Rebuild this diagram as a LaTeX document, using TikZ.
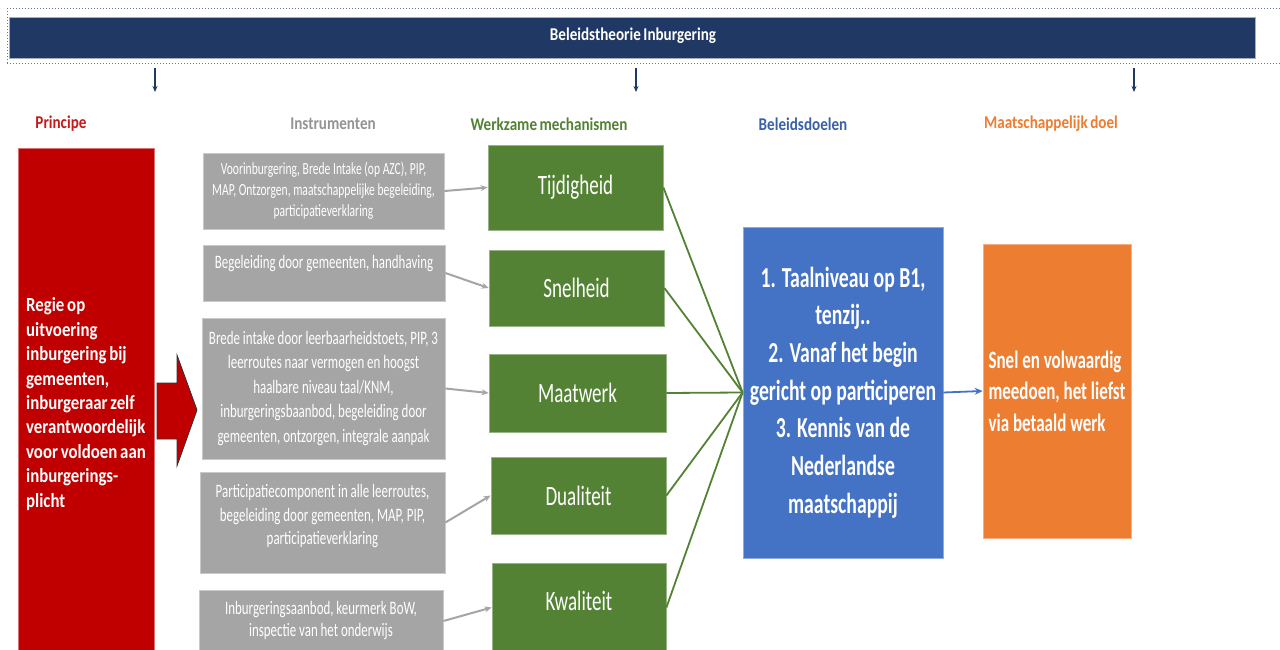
\documentclass[tikz,border=0pt]{standalone}
\usepackage{fontspec}
\usetikzlibrary{arrows.meta}
\newfontfamily\boxfont[FakeStretch=0.68]{Carlito}
\newfontfamily\headfont[FakeStretch=0.84]{Carlito}
\newfontfamily\regiefont[FakeStretch=0.84,WordSpace=0.75]{Carlito}
\definecolor{navy}{RGB}{32,56,100}
\definecolor{regieRed}{RGB}{192,0,0}
\definecolor{instrGray}{RGB}{165,165,165}
\definecolor{mechGreen}{RGB}{84,130,53}
\definecolor{doelBlue}{RGB}{68,114,196}
\definecolor{maatOrange}{RGB}{237,125,49}

\begin{document}
\begin{tikzpicture}[x=1pt,y=1pt,yscale=-1,
  header/.style={font=\headfont\bfseries\fontsize{18}{22}\selectfont},
  instrbox/.style={draw=instrGray!60!white,fill=instrGray,line width=0.8pt,text=white,align=center,inner sep=0pt,font=\boxfont\fontsize{19}{24.5}\selectfont},
  mechbox/.style={draw=mechGreen!60!white,fill=mechGreen,line width=0.8pt,text=white,inner sep=0pt,font=\boxfont\fontsize{28}{34}\selectfont},
  instrarrow/.style={draw=instrGray,line width=2pt,-{Stealth[length=7pt,width=6pt]}},
  mechline/.style={draw=mechGreen,line width=1.8pt},
  downarrow/.style={draw=navy,line width=1.2pt,-{Stealth[length=6pt,width=5pt]}}]
\clip (0,0) rectangle (1280,650);
\fill[white] (0,0) rectangle (1280,650);

%Shape: Banner
\node[draw=navy!70!white,dotted,line width=1pt,minimum width=1278pt,minimum height=55pt,inner sep=0pt] (frame) at (646,36.5) {};
\node[draw=navy!40!white,fill=navy,line width=0.8pt,minimum width=1246pt,minimum height=41pt,inner sep=0pt] (banner) at (632,37.5) {};
\node[text=white,font=\headfont\bfseries\fontsize{18}{22}\selectfont] (title) at (633,36) {Beleidstheorie Inburgering};

%Straight Lines: down arrows
\coordinate (d1a) at (155,68);  \coordinate (d1b) at (155,92);
\coordinate (d2a) at (636,68);  \coordinate (d2b) at (636,92);
\coordinate (d3a) at (1134,68); \coordinate (d3b) at (1134,92);
\draw[downarrow] (d1a) -- (d1b);
\draw[downarrow] (d2a) -- (d2b);
\draw[downarrow] (d3a) -- (d3b);

% Text Node: column headers
\node[header,text=regieRed!90!white] (hPrincipe) at (61,124) {Principe};
\node[header,text=instrGray!90!black] (hInstr) at (333,124) {Instrumenten};
\node[header,text=mechGreen] (hMech) at (549,124) {Werkzame mechanismen};
\node[header,text=doelBlue!85!black] (hDoel) at (803,124) {Beleidsdoelen};
\node[header,text=maatOrange] (hMaat) at (1051,124) {Maatschappelijk doel};

%Shape: Principe
\node[draw=regieRed!55!white,fill=regieRed,line width=0.8pt,minimum width=136pt,minimum height=512pt,inner sep=0pt,align=left,text=white,font=\regiefont\bfseries\fontsize{20}{24.4}\selectfont] (regie) at (86,404)
  {Regie op\\uitvoering\\inburgering bij\\gemeenten,\\inburgeraar zelf\\verantwoordelijk\\voor voldoen aan\\inburgerings-\\plicht};
\draw[fill=regieRed,draw=black!80,line width=0.8pt] (157,383) -- (177,383) -- (177,355) -- (197,410) -- (177,466) -- (177,439) -- (157,439) -- cycle;

%Shape: Instrumenten
\node[instrbox,minimum width=241pt,minimum height=76pt,font=\boxfont\fontsize{17}{21}\selectfont] (ins1) at (323.5,191)
  {Voorinburgering, Brede Intake (op AZC), PIP,\\MAP, Ontzorgen, maatschappelijke begeleiding,\\participatieverklaring};
\node[instrbox,minimum width=242pt,minimum height=56pt,font=\boxfont\fontsize{19}{23}\selectfont] (ins2) at (324,273)
  {Begeleiding door gemeenten, handhaving\\\mbox{}};
\node[instrbox,minimum width=243pt,minimum height=141pt] (ins3) at (323.5,388.5)
  {Brede intake door leerbaarheidstoets, PIP, 3\\leerroutes naar vermogen en hoogst\\haalbare niveau taal/KNM,\\inburgeringsbaanbod, begeleiding door\\gemeenten, ontzorgen, integrale aanpak};
\node[instrbox,minimum width=245pt,minimum height=101pt,font=\boxfont\fontsize{19}{23.5}\selectfont] (ins4) at (322.5,522.5)
  {Participatiecomponent in alle leerroutes,\\begeleiding door gemeenten, MAP, PIP,\\participatieverklaring\\[-8pt]\mbox{}};
\node[instrbox,minimum width=244pt,minimum height=62pt,font=\boxfont\fontsize{19}{22}\selectfont] (ins5) at (321,621)
  {Inburgeringsaanbod, keurmerk BoW,\\inspectie van het onderwijs};

%Shape: Werkzame mechanismen
\node[mechbox,minimum width=175pt,minimum height=85pt] (mech1) at (575.5,187.5) {Tijdigheid};
\node[mechbox,minimum width=175pt,minimum height=76pt] (mech2) at (576.5,288) {Snelheid};
\node[mechbox,minimum width=177pt,minimum height=78pt] (mech3) at (577.5,393) {Maatwerk};
\node[mechbox,minimum width=175pt,minimum height=77pt] (mech4) at (578.5,495.5) {Dualiteit};
\node[mechbox,minimum width=174pt,minimum height=89pt,text depth=14pt] (mech5) at (579,607.5) {Kwaliteit};

%Shape: Beleidsdoelen
\node[draw=doelBlue!60!white,fill=doelBlue,line width=0.8pt,minimum width=200pt,minimum height=331pt,inner sep=0pt,align=center,text=white,font=\boxfont\bfseries\fontsize{29}{37.7}\selectfont] (doel) at (843,392.5)
  {1. Taalniveau op B1,\\tenzij..\\2. Vanaf het begin\\gericht op participeren\\3. Kennis van de\\Nederlandse\\maatschappij};

%Shape: Maatschappelijk doel
\node[draw=maatOrange!60!white,fill=maatOrange,line width=0.8pt,minimum width=148pt,minimum height=294pt,inner sep=0pt,align=left,text=white,font=\boxfont\bfseries\fontsize{25}{31.5}\selectfont] (maat) at (1057,391)
  {Snel en volwaardig\\meedoen, het liefst\\via betaald werk};

%Straight Lines: connectors
\draw[instrarrow] (ins1.east) -- (mech1.west);
\draw[instrarrow] (ins2.east) -- (mech2.west);
\draw[instrarrow] (ins3.east) -- (mech3.west);
\draw[instrarrow] (ins4.east) -- (mech4.west);
\draw[instrarrow] (ins5.east) -- (mech5.west);
\foreach \m in {mech1,mech2,mech3,mech4,mech5}
  \draw[mechline] (\m.east) -- (doel.west);
\draw[draw=doelBlue,line width=1.8pt,-{Stealth[length=8pt,width=7pt]}] (doel.east) -- (maat.west);
\end{tikzpicture}
\end{document}
